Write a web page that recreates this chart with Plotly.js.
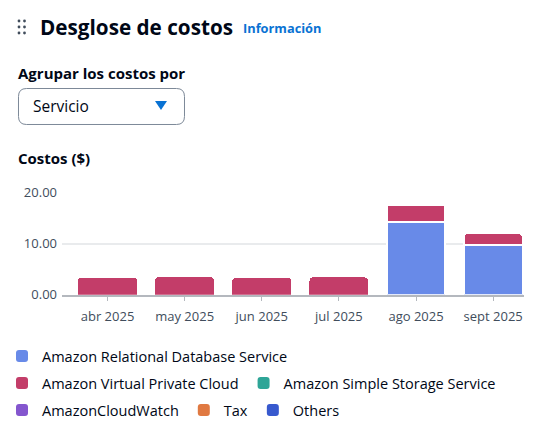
<!DOCTYPE html>
<html><head><meta charset="utf-8">
<script src="https://cdn.plot.ly/plotly-3.0.1.min.js"></script>
<style>html,body{margin:0;padding:0;background:#fff;}#chart{width:553px;height:440px;}</style>
</head><body><div id="chart"></div>
<script>
// Data
const months = ["abr 2025", "may 2025", "jun 2025", "jul 2025", "ago 2025", "sept 2025"];
const rdsCosts = [null, null, null, null, 14.2, 9.8];
const vpcCosts = [3.35, 3.45, 3.3, 3.4, 3.45, 2.3];
const s3Costs = [null, null, null, null, null, null];
const cloudWatchCosts = [null, null, null, null, null, null];
const taxCosts = [null, null, null, null, null, null];
const otherCosts = [null, null, null, null, null, null];
const seriesNames = ["Amazon Relational Database Service", "Amazon Virtual Private Cloud",
  "Amazon Simple Storage Service", "AmazonCloudWatch", "Tax", "Others"];
const yTicks = [0, 10, 20];

const W = 553, H = 440;
const px = x => x / W, py = y => 1 - y / H;
const FONT = "Open Sans, Noto Sans, sans-serif";
const colors = ["#688ae8", "#c33d69", "#2ea597", "#8456ce", "#e07941", "#3759ce"];
const seriesValues = [rdsCosts, vpcCosts, s3Costs, cloudWatchCosts, taxCosts, otherCosts];
const legendFor = ["legend", "legend2", "legend2", "legend3", "legend3", "legend3"];
// white separator only where segments are stacked (first point 0 so legend swatch stays full size)
const sepWidth = months.map((m, i) => (i >= 4 ? 2 : 0));

const traces = seriesValues.map((vals, i) => ({
  type: "bar", name: seriesNames[i], x: months, y: vals, showlegend: true,
  marker: {color: colors[i], line: {color: "#ffffff", width: sepWidth}},
  legend: legendFor[i], hoverinfo: "skip"
}));

function pathPx(cmds) {
  return cmds.map(c => c[0] + c.slice(1).map((v, k) => (k % 2 === 0 ? px(v) : py(v)).toFixed(5)).join(",")).join(" ");
}
function roundRect(x0, y0, x1, y1, r) {
  return pathPx([["M", x0 + r, y0], ["L", x1 - r, y0], ["Q", x1, y0, x1, y0 + r], ["L", x1, y1 - r],
    ["Q", x1, y1, x1 - r, y1], ["L", x0 + r, y1], ["Q", x0, y1, x0, y1 - r], ["L", x0, y0 + r],
    ["Q", x0, y0, x0 + r, y0]]) + " Z";
}

const shapes = [
  {type: "path", xref: "paper", yref: "paper", path: roundRect(18.5, 88.5, 184.5, 124.5, 8),
   line: {color: "#7d8998", width: 1}, fillcolor: "rgba(0,0,0,0)"},
  {type: "path", xref: "paper", yref: "paper", path: pathPx([["M", 155, 101], ["L", 167, 101], ["L", 161, 110]]) + " Z",
   line: {width: 0}, fillcolor: "#0972d3"}
];
[[19, 21], [24.5, 21], [19, 27], [24.5, 27], [19, 33], [24.5, 33]].forEach(([cx, cy]) => {
  shapes.push({type: "circle", xref: "paper", yref: "paper", x0: px(cx - 1.4), x1: px(cx + 1.4),
    y0: py(cy + 1.4), y1: py(cy - 1.4), fillcolor: "#414d5c", line: {width: 0}});
});

const ann = (text, x, y, size, color, bold) => ({
  text: bold ? "<b>" + text + "</b>" : text, xref: "paper", yref: "paper", x: px(x), y: py(y),
  xanchor: "left", yanchor: "middle", showarrow: false, font: {family: FONT, size: size, color: color}
});

const legendBase = {orientation: "h", xanchor: "left", yanchor: "top", traceorder: "normal",
  font: {family: FONT, size: 14.5, color: "#000716"}, bgcolor: "rgba(0,0,0,0)", itemclick: false};

const layout = {
  width: W, height: H, margin: {l: 0, r: 0, t: 0, b: 0}, showlegend: true,
  paper_bgcolor: "#ffffff", plot_bgcolor: "#ffffff",
  font: {family: FONT, color: "#414d5c"},
  barmode: "stack", bargap: 0.236, barcornerradius: 4,
  xaxis: {domain: [px(62), px(524)], type: "category", range: [-0.59, 5.4],
    showgrid: false, showline: true, linecolor: "#b4b8be", linewidth: 1.5,
    ticks: "outside", ticklen: 5, tickcolor: "#b4b8be", tickwidth: 1,
    tickfont: {family: FONT, size: 13, color: "#414d5c"}, ticklabelstandoff: 4, fixedrange: true},
  yaxis: {domain: [py(294.7), py(192.7)], range: [0, 20], tickvals: yTicks, tickformat: ".2f",
    showgrid: true, gridcolor: "#e9ebed", gridwidth: 1.5, zeroline: false, showline: false, ticks: "",
    tickfont: {family: FONT, size: 13, color: "#414d5c"}, ticklabelstandoff: 4, fixedrange: true},
  legend: Object.assign({}, legendBase, {x: px(2), y: py(340)}),
  legend2: Object.assign({}, legendBase, {x: px(2), y: py(367)}),
  legend3: Object.assign({}, legendBase, {x: px(2), y: py(394)}),
  shapes: shapes,
  annotations: [
    ann("Desglose de costos", 38, 27, 20.7, "#000716", true),
    ann("Información", 241, 28, 12.8, "#0972d3", true),
    ann("Agrupar los costos por", 16, 73, 15, "#000716", true),
    ann("Servicio", 31, 106, 15.5, "#000716", false),
    ann("Costos ($)", 16, 158, 15, "#000716", true)
  ]
};

Plotly.newPlot("chart", traces, layout, {displayModeBar: false, responsive: false});
</script></body></html>
